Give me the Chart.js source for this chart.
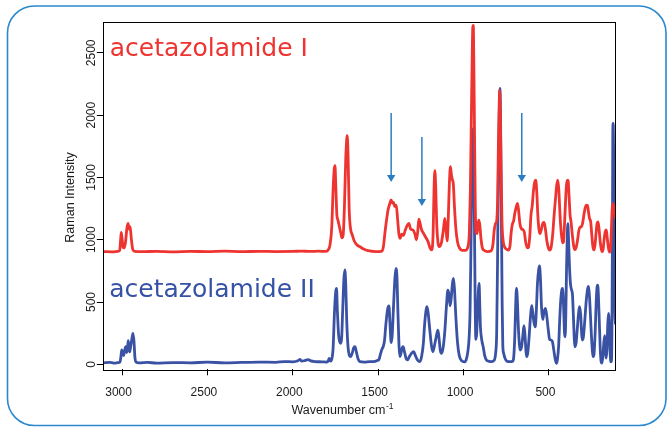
<!DOCTYPE html>
<html>
<head>
<meta charset="utf-8">
<script src="https://cdn.jsdelivr.net/npm/chart.js@4/dist/chart.umd.min.js"></script>
<style>
html, body { margin: 0; padding: 0; background: #fff; }
canvas { display: block; }
</style>
</head>
<body>
<canvas id="myChart" width="667" height="427"></canvas>
<script>
// tick values
var xTicks = [3000, 2500, 2000, 1500, 1000, 500];
var yTicks = [0, 500, 1000, 1500, 2000, 2500];

// acetazolamide I (offset spectrum)
var waveI = [3110,3060,3025,3014,3009,3005,3000,2994,2988,2980,2972,2965,2959,2953,2946,2938,2925,2880,2800,2700,2600,2500,2400,2300,2200,2100,2000,1950,1900,1850,1810,1795,1782,1772,1764,1758,1753,1748,1742,1736,1728,1720,1712,1705,1698,1690,1684,1681,1676,1670,1662,1652,1640,1625,1607,1585,1560,1530,1500,1482,1470,1460,1451,1442,1432,1424,1417,1410,1403,1394,1386,1378,1371,1362,1352,1342,1330,1320,1310,1298,1285,1276,1268,1262,1256,1246,1236,1222,1208,1195,1186,1178,1173,1168,1163,1157,1150,1143,1130,1118,1110,1103,1096,1090,1083,1077,1071,1065,1060,1053,1045,1035,1022,1008,990,975,966,960,955,950,946,943,940,936,932,927,921,916,911,905,898,890,880,860,840,828,820,812,806,800,796,791,788,784,780,775,768,762,750,738,728,721,714,707,700,692,684,678,670,662,652,644,636,626,620,612,605,598,590,583,577,571,565,558,552,544,535,528,520,512,502,495,487,478,470,462,455,448,442,435,428,420,415,409,403,397,391,387,382,376,370,363,355,348,340,332,325,318,310,303,295,287,280,274,268,262,256,250,243,236,230,224,218,212,206,200,194,188,182,176,170,164,158,152,146,142,138,134,130,126,122,118,114,110];
var ramanI = [905,903,906,915,990,1059,1010,940,935,980,1090,1131,1085,1105,1010,925,906,904,907,903,906,905,908,904,907,905,906,909,906,908,906,915,960,1100,1400,1560,1594,1420,1200,1158,1110,1060,1015,1040,1250,1650,1810,1835,1650,1250,1090,1040,990,960,944,925,912,907,905,906,940,1060,1158,1240,1290,1319,1295,1300,1265,1278,1160,1040,1011,1045,1035,1075,1115,1131,1085,1080,1048,1000,1070,1165,1140,1080,1055,1020,985,930,918,1060,1400,1554,1420,1120,980,944,975,1080,1172,1090,990,1150,1450,1586,1520,1480,1450,1260,1090,980,930,915,914,940,1060,1400,1900,2400,2700,2720,2450,1900,1350,1060,1050,1110,1158,1120,1010,935,915,905,910,960,1080,1131,1150,1350,1750,2100,2201,1950,1550,1150,990,950,925,917,950,1060,1125,1150,1210,1260,1292,1240,1130,1090,1080,1060,980,935,940,1030,1200,1270,1400,1465,1479,1380,1200,1080,1050,1085,1135,1140,1080,990,930,917,940,1040,1190,1320,1430,1479,1400,1200,1060,975,980,1110,1300,1440,1479,1470,1350,1200,1140,1040,950,920,940,1000,1070,1100,1104,1130,1200,1260,1278,1275,1220,1170,1150,1060,950,918,960,1050,1130,1144,1080,990,930,905,930,1010,1065,1078,1010,940,905,900,950,1080,1230,1290,1280,1240,1200,1170];

// acetazolamide II
var waveII = [3110,3070,3040,3020,3012,3007,3002,2997,2991,2985,2979,2973,2968,2964,2960,2955,2949,2942,2936,2930,2925,2918,2900,2850,2800,2700,2600,2500,2400,2300,2200,2100,2050,2000,1970,1958,1948,1930,1910,1895,1870,1830,1800,1792,1787,1780,1772,1764,1756,1749,1744,1739,1732,1725,1720,1714,1708,1701,1695,1690,1684,1676,1668,1662,1652,1644,1636,1628,1618,1607,1580,1550,1529,1505,1495,1485,1478,1471,1463,1455,1445,1437,1431,1424,1418,1410,1402,1396,1390,1384,1378,1373,1366,1360,1354,1346,1336,1328,1318,1304,1292,1282,1270,1256,1246,1236,1228,1220,1215,1208,1198,1188,1180,1172,1160,1150,1143,1136,1129,1120,1110,1100,1092,1085,1079,1073,1065,1059,1053,1045,1035,1025,1012,995,985,975,968,962,957,952,947,944,940,936,932,928,923,918,913,909,905,901,896,890,885,876,866,850,835,822,812,806,801,796,791,787,783,779,774,770,765,756,745,730,712,706,700,695,690,685,679,673,668,660,652,646,640,634,630,624,616,608,601,595,588,580,574,567,560,555,550,543,536,529,520,512,504,496,488,480,472,463,456,450,443,436,430,424,420,414,409,405,401,397,393,389,385,380,374,368,362,357,352,348,341,334,327,321,314,308,304,298,290,282,274,268,263,257,251,245,241,236,229,223,218,214,210,205,200,195,190,184,178,173,169,165,160,155,151,146,142,138,134,131,128,126,124,121,117,114,110];
var ramanII = [12,15,10,14,20,60,115,95,70,110,141,95,130,190,130,100,150,210,249,180,60,18,12,15,10,14,12,17,12,15,18,16,22,20,28,40,25,30,38,28,22,20,18,30,48,25,40,130,420,580,610,430,240,180,169,210,430,680,757,640,340,130,70,61,90,130,141,100,45,21,18,22,21,30,40,90,120,141,190,320,440,468,330,175,230,470,690,770,700,400,150,61,90,130,141,100,45,35,60,90,101,70,35,21,60,160,320,430,462,420,280,150,101,140,220,275,200,110,88,130,260,470,596,560,470,520,650,690,600,380,170,70,30,20,35,100,200,420,900,1450,1800,1890,1650,1100,500,200,250,420,590,650,480,300,220,170,141,70,35,24,21,30,90,250,800,1550,2000,2215,1950,1300,500,150,88,45,25,21,25,60,220,460,610,520,300,160,115,140,240,310,230,100,61,90,220,380,470,420,340,300,420,650,760,789,700,450,360,420,449,380,280,200,195,185,120,40,8,40,150,380,530,600,610,460,260,221,400,750,1000,1130,1000,800,650,600,560,400,220,141,170,280,400,462,400,240,195,220,350,500,600,625,560,400,230,100,61,80,260,500,620,636,550,350,150,30,10,60,180,230,120,50,120,330,409,300,120,25,20,250,1000,1800,1934,1700,900,450,320];

// arrows marking bands
var arrowWave = [1424, 1244, 659];
var arrowFrom = [2017, 1825, 2017];
var arrowTo = [1463, 1271, 1463];

var seriesNames = ['acetazolamide I', 'acetazolamide II'];

function toPoints(xs, ys) {
  return xs.map(function (x, i) { return { x: x, y: ys[i] }; });
}

var redLine = '#ee3430';
var blueLine = '#3a52a4';

var extras = {
  id: 'extras',
  beforeDraw: function (chart) {
    var c = chart.ctx;
    c.save();
    c.fillStyle = '#fff';
    c.fillRect(0, 0, chart.width, chart.height);
    // rounded frame
    var x0 = 7.5, y0 = 6, x1 = 666, y1 = 425.5, r = 27;
    c.strokeStyle = '#2b88cc';
    c.lineWidth = 1.6;
    c.beginPath();
    c.moveTo(x0 + r, y0);
    c.lineTo(x1 - r, y0);
    c.arcTo(x1, y0, x1, y0 + r, r);
    c.lineTo(x1, y1 - r);
    c.arcTo(x1, y1, x1 - r, y1, r);
    c.lineTo(x0 + r, y1);
    c.arcTo(x0, y1, x0, y1 - r, r);
    c.lineTo(x0, y0 + r);
    c.arcTo(x0, y0, x0 + r, y0, r);
    c.closePath();
    c.stroke();
    c.restore();
  },
  afterDatasetsDraw: function (chart) {
    var c = chart.ctx;
    var xs = chart.scales.x, ys = chart.scales.y;
    c.save();
    c.strokeStyle = '#2a7dc2';
    c.fillStyle = '#2a7dc2';
    c.lineWidth = 1.5;
    for (var i = 0; i < arrowWave.length; i++) {
      var px = xs.getPixelForValue(arrowWave[i]);
      var yA = ys.getPixelForValue(arrowFrom[i]);
      var yB = ys.getPixelForValue(arrowTo[i]);
      c.beginPath();
      c.moveTo(px, yA);
      c.lineTo(px, yB - 6);
      c.stroke();
      c.beginPath();
      c.moveTo(px - 4.2, yB - 7);
      c.lineTo(px + 4.2, yB - 7);
      c.lineTo(px, yB);
      c.closePath();
      c.fill();
    }
    c.restore();
  },
  afterDraw: function (chart) {
    var c = chart.ctx;
    var a = chart.chartArea;
    var xs = chart.scales.x, ys = chart.scales.y;
    c.save();
    // plot box
    c.strokeStyle = '#000';
    c.lineWidth = 1;
    c.strokeRect(Math.round(a.left) + 0.5, Math.round(a.top) + 0.5,
      Math.round(a.right - a.left), Math.round(a.bottom - a.top));

    // y tick labels (rotated)
    c.fillStyle = '#1a1a1a';
    c.font = '12px "Liberation Sans", Arial, sans-serif';
    c.textAlign = 'center';
    c.textBaseline = 'middle';
    yTicks.forEach(function (v) {
      var py = ys.getPixelForValue(v);
      c.save();
      c.translate(a.left - 12, py);
      c.rotate(-Math.PI / 2);
      c.fillText(String(v), 0, 0);
      c.restore();
    });

    // y title
    c.save();
    c.translate(70.5, (a.top + a.bottom) / 2 + 2);
    c.rotate(-Math.PI / 2);
    c.font = '12.5px "Liberation Sans", Arial, sans-serif';
    c.fillText('Raman Intensity', 0, 0);
    c.restore();

    // x title with superscript
    c.textAlign = 'left';
    c.textBaseline = 'alphabetic';
    c.font = '12.5px "Liberation Sans", Arial, sans-serif';
    var main = 'Wavenumber cm';
    var tx = 291.5;
    c.fillText(main, tx, 414);
    var w = c.measureText(main).width;
    c.font = '8.5px "Liberation Sans", Arial, sans-serif';
    c.fillText('-1', tx + w + 0.5, 409);

    // series labels
    c.font = '25px "DejaVu Sans", Verdana, sans-serif';
    c.fillStyle = '#ee3430';
    c.fillText(seriesNames[0], a.left + 6.5, 56);
    c.fillStyle = '#3652a6';
    c.fillText(seriesNames[1], a.left + 6, 296.5);
    c.restore();
  }
};

Chart.defaults.font.family = '"Liberation Sans", Arial, sans-serif';

var ctx = document.getElementById('myChart').getContext('2d');
var myChart = new Chart(ctx, {
  type: 'line',
  data: {
    datasets: [{
      label: seriesNames[0],
      data: toPoints(waveI, ramanI),
      borderColor: redLine,
      backgroundColor: 'transparent',
      borderWidth: 2.8,
      pointRadius: 0,
      cubicInterpolationMode: 'monotone',
      borderJoinStyle: 'round'
    }, {
      label: seriesNames[1],
      data: toPoints(waveII, ramanII),
      borderColor: blueLine,
      backgroundColor: 'transparent',
      borderWidth: 2.8,
      pointRadius: 0,
      cubicInterpolationMode: 'monotone',
      borderJoinStyle: 'round'
    }]
  },
  options: {
    responsive: false,
    animation: false,
    layout: { padding: { left: 0, right: 51.5, top: 21.7, bottom: 0 } },
    plugins: {
      legend: { display: false },
      tooltip: { enabled: false }
    },
    scales: {
      x: {
        type: 'linear',
        reverse: true,
        min: 110,
        max: 3110,
        afterFit: function (s) { s.height = 57.7; },
        afterBuildTicks: function (s) { s.ticks = xTicks.map(function (v) { return { value: v }; }); },
        border: { display: false },
        grid: { drawOnChartArea: false, drawTicks: true, tickLength: 6, color: '#000' },
        ticks: {
          padding: 10.5,
          labelOffset: -3.5,
          maxRotation: 0,
          color: '#1a1a1a',
          font: { size: 12 },
          callback: function (v) { return String(v); }
        }
      },
      y: {
        type: 'linear',
        min: -40,
        max: 2750,
        afterFit: function (s) { s.width = 103.3; },
        afterBuildTicks: function (s) { s.ticks = yTicks.map(function (v) { return { value: v }; }); },
        border: { display: false },
        grid: { drawOnChartArea: false, drawTicks: true, tickLength: 6.5, color: '#000' },
        ticks: { display: false }
      }
    }
  },
  plugins: [extras]
});
</script>
</body>
</html>
